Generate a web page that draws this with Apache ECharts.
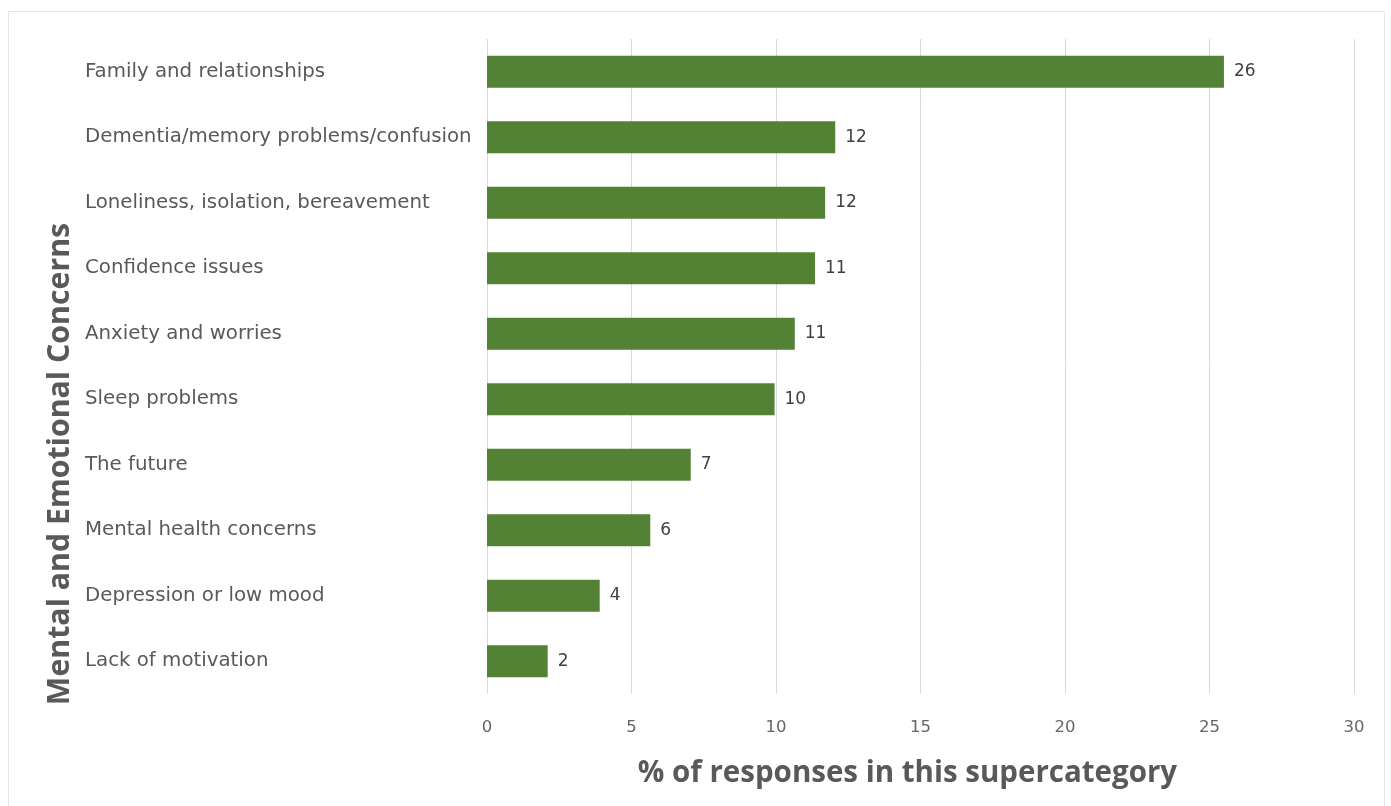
<!DOCTYPE html>
<html><head><meta charset="utf-8">
<script src="https://cdn.jsdelivr.net/npm/echarts@6/dist/echarts.min.js"></script>
<style>html,body{margin:0;padding:0;background:#fff}#c{width:1391px;height:806px}</style>
</head><body><div id="c"></div>
<script>
const categories = ["Family and relationships","Dementia/memory problems/confusion","Loneliness, isolation, bereavement","Confidence issues","Anxiety and worries","Sleep problems","The future","Mental health concerns","Depression or low mood","Lack of motivation"];
const values = [25.5, 12.05, 11.7, 11.35, 10.65, 9.95, 7.05, 5.65, 3.9, 2.1];
const xTicks = [0, 5, 10, 15, 20, 25, 30];
const xTitle = "% of responses in this supercategory";
const yTitle = "Mental and Emotional Concerns";

const chart = echarts.init(document.getElementById('c'));
chart.setOption({
  animation: false,
  grid: {left: 487, right: 37, top: 39, bottom: 112, containLabel: false},
  xAxis: {
    type: 'value', min: xTicks[0], max: xTicks[xTicks.length-1], interval: 5,
    axisLine: {show: false}, axisTick: {show: false},
    splitLine: {show: true, lineStyle: {color: '#d9d9d9', width: 1}},
    axisLabel: {color: '#666666', fontSize: 16.5, fontFamily: 'DejaVu Sans', margin: 25},
    name: xTitle, nameLocation: 'middle', nameGap: 65,
    nameTextStyle: {fontFamily: 'Open Sans', fontWeight: 'bold', fontSize: 29.5, color: '#595959', padding: [0, 26, 0, 0]}
  },
  yAxis: {
    type: 'category', data: categories, inverse: true,
    axisLine: {show: false}, axisTick: {show: false},
    axisLabel: {align: 'left', margin: 402, color: '#595959', fontSize: 19.8, fontFamily: 'DejaVu Sans'}
  },
  graphic: [
    {type: 'rect', shape: {x: 8.5, y: 11.5, width: 1376, height: 800}, style: {fill: 'none', stroke: '#e6e6e6', lineWidth: 1}, silent: true},
    {type: 'text', x: 60, y: 464, rotation: Math.PI/2,
     style: {text: yTitle, fontFamily: 'Open Sans', fontWeight: 'bold', fontSize: 30.3, fill: '#595959', align: 'center', verticalAlign: 'middle'}}
  ],
  series: [{
    type: 'bar', data: values, barWidth: 32,
    itemStyle: {color: '#548235'},
    label: {show: true, position: 'right', distance: 10, color: '#404040', fontSize: 17, fontFamily: 'DejaVu Sans',
      formatter: p => Math.round(p.value)}
  }]
});
</script></body></html>
